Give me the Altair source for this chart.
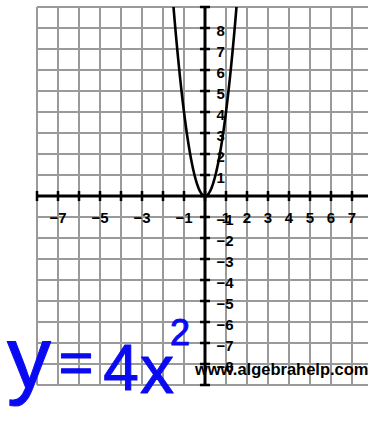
import altair as alt
import pandas as pd

# Coordinate grid and labelled integer values
grid_x = list(range(-8, 8))
grid_y = list(range(-9, 10))
tick_x = list(range(-8, 8))
tick_y = list(range(-9, 10))
x_labels = [-7, -5, -3, -1, 1, 2, 3, 4, 5, 6, 7]
y_labels = [8, 7, 6, 5, 4, 3, 2, 1, -1, -2, -3, -4, -5, -6, -7, -8]

# Parabola y = a * x^2, plotted over the visible part of the grid
coef = 4
x_min, x_max = -1.5, 1.5

X_DOMAIN = [-8, 7.762]
Y_DOMAIN = [-9, 9]

xs = alt.Scale(domain=X_DOMAIN, nice=False, zero=False)
ys = alt.Scale(domain=Y_DOMAIN, nice=False, zero=False)

def fmt(v):
    return ("\u2212" + str(-v)) if v < 0 else str(v)

gx = pd.DataFrame({"x": grid_x})
gy = pd.DataFrame({"y": grid_y})
tx = pd.DataFrame({"x": tick_x, "y0": -0.24, "y1": 0.24})
ty = pd.DataFrame({"y": tick_y, "x0": -0.24, "x1": 0.24})
xl = pd.DataFrame({"x": x_labels, "t": [fmt(v) for v in x_labels], "y": -1.05})
yl = pd.DataFrame({"y": y_labels, "t": [fmt(v) for v in y_labels], "x": 0.55})

GRID = "#9a9a9a"
INK = "#000000"
PEN = "#0a0af2"
LABEL_FONT = "Liberation Sans"
HAND_FONT = "Liberation Sans"

vgrid = alt.Chart(gx).mark_rule(color=GRID, strokeWidth=2).encode(
    x=alt.X("x:Q", scale=xs, axis=None))
hgrid = alt.Chart(gy).mark_rule(color=GRID, strokeWidth=2).encode(
    y=alt.Y("y:Q", scale=ys, axis=None))

x_axis = alt.Chart().mark_rule(color=INK, strokeWidth=3).encode(
    y=alt.datum(0, scale=ys))
y_axis = alt.Chart().mark_rule(color=INK, strokeWidth=3).encode(
    x=alt.datum(0, scale=xs))

x_ticks = alt.Chart(tx).mark_rule(color=INK, strokeWidth=2.5).encode(
    x=alt.X("x:Q", scale=xs), y=alt.Y("y0:Q", scale=ys), y2="y1:Q")
y_ticks = alt.Chart(ty).mark_rule(color=INK, strokeWidth=2.5).encode(
    y=alt.Y("y:Q", scale=ys), x=alt.X("x0:Q", scale=xs), x2="x1:Q")

curve = (
    alt.Chart(alt.sequence(x_min, x_max + 0.001, 0.02, as_="x"))
    .transform_calculate(y=f"{coef} * datum.x * datum.x")
    .mark_line(color=INK, strokeWidth=2.6, clip=True)
    .encode(x=alt.X("x:Q", scale=xs), y=alt.Y("y:Q", scale=ys), order="x:Q")
)

x_text = alt.Chart(xl).mark_text(
    font=LABEL_FONT, fontSize=15, fontWeight="bold", color=INK,
    align="center", baseline="middle",
).encode(x=alt.X("x:Q", scale=xs), y=alt.Y("y:Q", scale=ys), text="t:N")

y_text = alt.Chart(yl).mark_text(
    font=LABEL_FONT, fontSize=15, fontWeight="bold", color=INK,
    align="left", baseline="middle", dy=3,
).encode(x=alt.X("x:Q", scale=xs), y=alt.Y("y:Q", scale=ys), text="t:N")

watermark = alt.Chart().mark_text(
    text="www.algebrahelp.com", font=LABEL_FONT, fontSize=16.5,
    fontWeight="bold", color=INK, align="left", baseline="alphabetic",
).encode(x=alt.datum(-0.48, scale=xs), y=alt.datum(-8.52, scale=ys))

def pen(ch, x, y, size):
    # hand-written style annotation in blue ink
    return alt.Chart().mark_text(
        text=ch, font=HAND_FONT, fontSize=size, color=PEN,
        stroke=PEN, strokeWidth=1, strokeJoin="round",
        align="center", baseline="alphabetic", clip=False,
    ).encode(x=alt.datum(x, scale=xs), y=alt.datum(y, scale=ys))

hand = [
    pen("y", -8.38, -9.14, 88),
    pen("=", -6.14, -8.9, 60),
    pen("4", -4.0, -9.24, 64),
    pen("x", -2.29, -9.38, 68),
    pen("2", -1.19, -7.1, 36),
]

chart = alt.layer(
    vgrid, hgrid, x_axis, y_axis, x_ticks, y_ticks, curve,
    x_text, y_text, watermark, *hand,
).properties(
    width=331, height=378, autosize="none",
    padding={"left": 37, "top": 7, "right": 0, "bottom": 63},
    background="white",
).configure_view(strokeWidth=0)

chart.save("out.html", embed_options={"renderer": "svg", "actions": False})
